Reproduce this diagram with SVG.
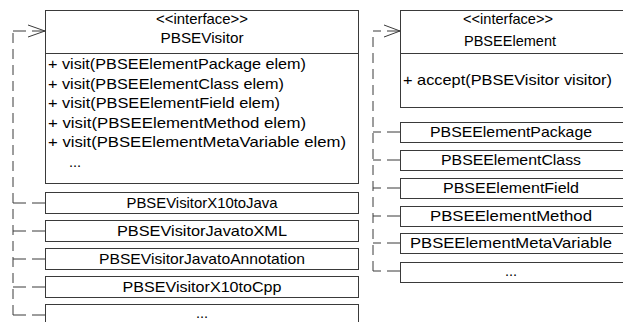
<svg xmlns="http://www.w3.org/2000/svg" width="623" height="322" viewBox="0 0 623 322">
<style>
.box{fill:#fff;stroke:#3a3a3a;stroke-width:1}
.t{font-family:"Liberation Sans",Arial,sans-serif;font-size:14.5px;fill:#000}
.c{text-anchor:middle}
.con{fill:none;stroke:#3a3a3a;stroke-width:1;stroke-dasharray:10,6}
.br{fill:none;stroke:#3a3a3a;stroke-width:1;stroke-dasharray:13,6}
.arr{fill:none;stroke:#3a3a3a;stroke-width:1}
</style>
<rect width="623" height="322" fill="#fff"/>
<g id="connectors">
  <path class="con" d="M13,315 V31"/>
  <path class="br" d="M45,31 H13"/>
  <path class="arr" d="M28,25 L45,31 L28,37"/>
  <path class="br" d="M45,203 H13"/>
  <path class="br" d="M45,231 H13"/>
  <path class="br" d="M45,259 H13"/>
  <path class="br" d="M45,287 H13"/>
  <path class="br" d="M45,315 H13"/>
  <path class="con" d="M373,271 V31"/>
  <path class="br" d="M400,31 H373"/>
  <path class="arr" d="M384,25 L400,31 L384,37"/>
  <path class="br" d="M400,132 H373"/>
  <path class="br" d="M400,160 H373"/>
  <path class="br" d="M400,188 H373"/>
  <path class="br" d="M400,216 H373"/>
  <path class="br" d="M400,243 H373"/>
  <path class="br" d="M400,271 H373"/>
</g>
<g id="PBSEVisitor">
  <rect class="box" x="45.5" y="10.5" width="313" height="173"/>
  <line class="box" x1="45.5" y1="53.5" x2="358.5" y2="53.5"/>
  <text class="t c" x="202" y="24" textLength="92" lengthAdjust="spacingAndGlyphs">&lt;&lt;interface&gt;&gt;</text>
  <text class="t c" x="202" y="43" textLength="83" lengthAdjust="spacingAndGlyphs">PBSEVisitor</text>
  <text class="t" x="48" y="69" textLength="258" lengthAdjust="spacingAndGlyphs">+ visit(PBSEElementPackage elem)</text>
  <text class="t" x="48" y="89" textLength="236" lengthAdjust="spacingAndGlyphs">+ visit(PBSEElementClass elem)</text>
  <text class="t" x="48" y="108" textLength="232" lengthAdjust="spacingAndGlyphs">+ visit(PBSEElementField elem)</text>
  <text class="t" x="48" y="128" textLength="258" lengthAdjust="spacingAndGlyphs">+ visit(PBSEElementMethod elem)</text>
  <text class="t" x="48" y="147" textLength="298" lengthAdjust="spacingAndGlyphs">+ visit(PBSEElementMetaVariable elem)</text>
  <text class="t" x="69" y="167">...</text>
</g>
<g id="PBSEVisitorX10toJava">
  <rect class="box" x="45.5" y="192.5" width="313" height="21"/>
  <text class="t c" x="202" y="208" textLength="151" lengthAdjust="spacingAndGlyphs">PBSEVisitorX10toJava</text>
</g>
<g id="PBSEVisitorJavatoXML">
  <rect class="box" x="45.5" y="220.5" width="313" height="21"/>
  <text class="t c" x="202" y="236" textLength="170" lengthAdjust="spacingAndGlyphs">PBSEVisitorJavatoXML</text>
</g>
<g id="PBSEVisitorJavatoAnnotation">
  <rect class="box" x="45.5" y="248.5" width="313" height="21"/>
  <text class="t c" x="202" y="264" textLength="206" lengthAdjust="spacingAndGlyphs">PBSEVisitorJavatoAnnotation</text>
</g>
<g id="PBSEVisitorX10toCpp">
  <rect class="box" x="45.5" y="276.5" width="313" height="21"/>
  <text class="t c" x="202" y="292" textLength="159" lengthAdjust="spacingAndGlyphs">PBSEVisitorX10toCpp</text>
</g>
<g id="VisitorMore">
  <rect class="box" x="45.5" y="304.5" width="313" height="30"/>
  <text class="t c" x="202" y="318">...</text>
</g>
<g id="PBSEElement">
  <rect class="box" x="400.5" y="10.5" width="230" height="97"/>
  <line class="box" x1="400.5" y1="53.5" x2="630" y2="53.5"/>
  <text class="t c" x="508" y="24" textLength="90" lengthAdjust="spacingAndGlyphs">&lt;&lt;interface&gt;&gt;</text>
  <text class="t c" x="510" y="46" textLength="92" lengthAdjust="spacingAndGlyphs">PBSEElement</text>
  <text class="t" x="403" y="85" textLength="209" lengthAdjust="spacingAndGlyphs">+ accept(PBSEVisitor visitor)</text>
</g>
<g id="PBSEElementPackage">
  <rect class="box" x="400.5" y="122.5" width="230" height="20"/>
  <text class="t c" x="511" y="137" textLength="162" lengthAdjust="spacingAndGlyphs">PBSEElementPackage</text>
</g>
<g id="PBSEElementClass">
  <rect class="box" x="400.5" y="150.5" width="230" height="20"/>
  <text class="t c" x="511" y="165" textLength="140" lengthAdjust="spacingAndGlyphs">PBSEElementClass</text>
</g>
<g id="PBSEElementField">
  <rect class="box" x="400.5" y="178.5" width="230" height="20"/>
  <text class="t c" x="511" y="193" textLength="136" lengthAdjust="spacingAndGlyphs">PBSEElementField</text>
</g>
<g id="PBSEElementMethod">
  <rect class="box" x="400.5" y="206.5" width="230" height="20"/>
  <text class="t c" x="511" y="221" textLength="162" lengthAdjust="spacingAndGlyphs">PBSEElementMethod</text>
</g>
<g id="PBSEElementMetaVariable">
  <rect class="box" x="400.5" y="233.5" width="230" height="20"/>
  <text class="t c" x="511" y="248" textLength="202" lengthAdjust="spacingAndGlyphs">PBSEElementMetaVariable</text>
</g>
<g id="ElementMore">
  <rect class="box" x="400.5" y="262.5" width="230" height="20"/>
  <text class="t c" x="511" y="276">...</text>
</g>
</svg>
